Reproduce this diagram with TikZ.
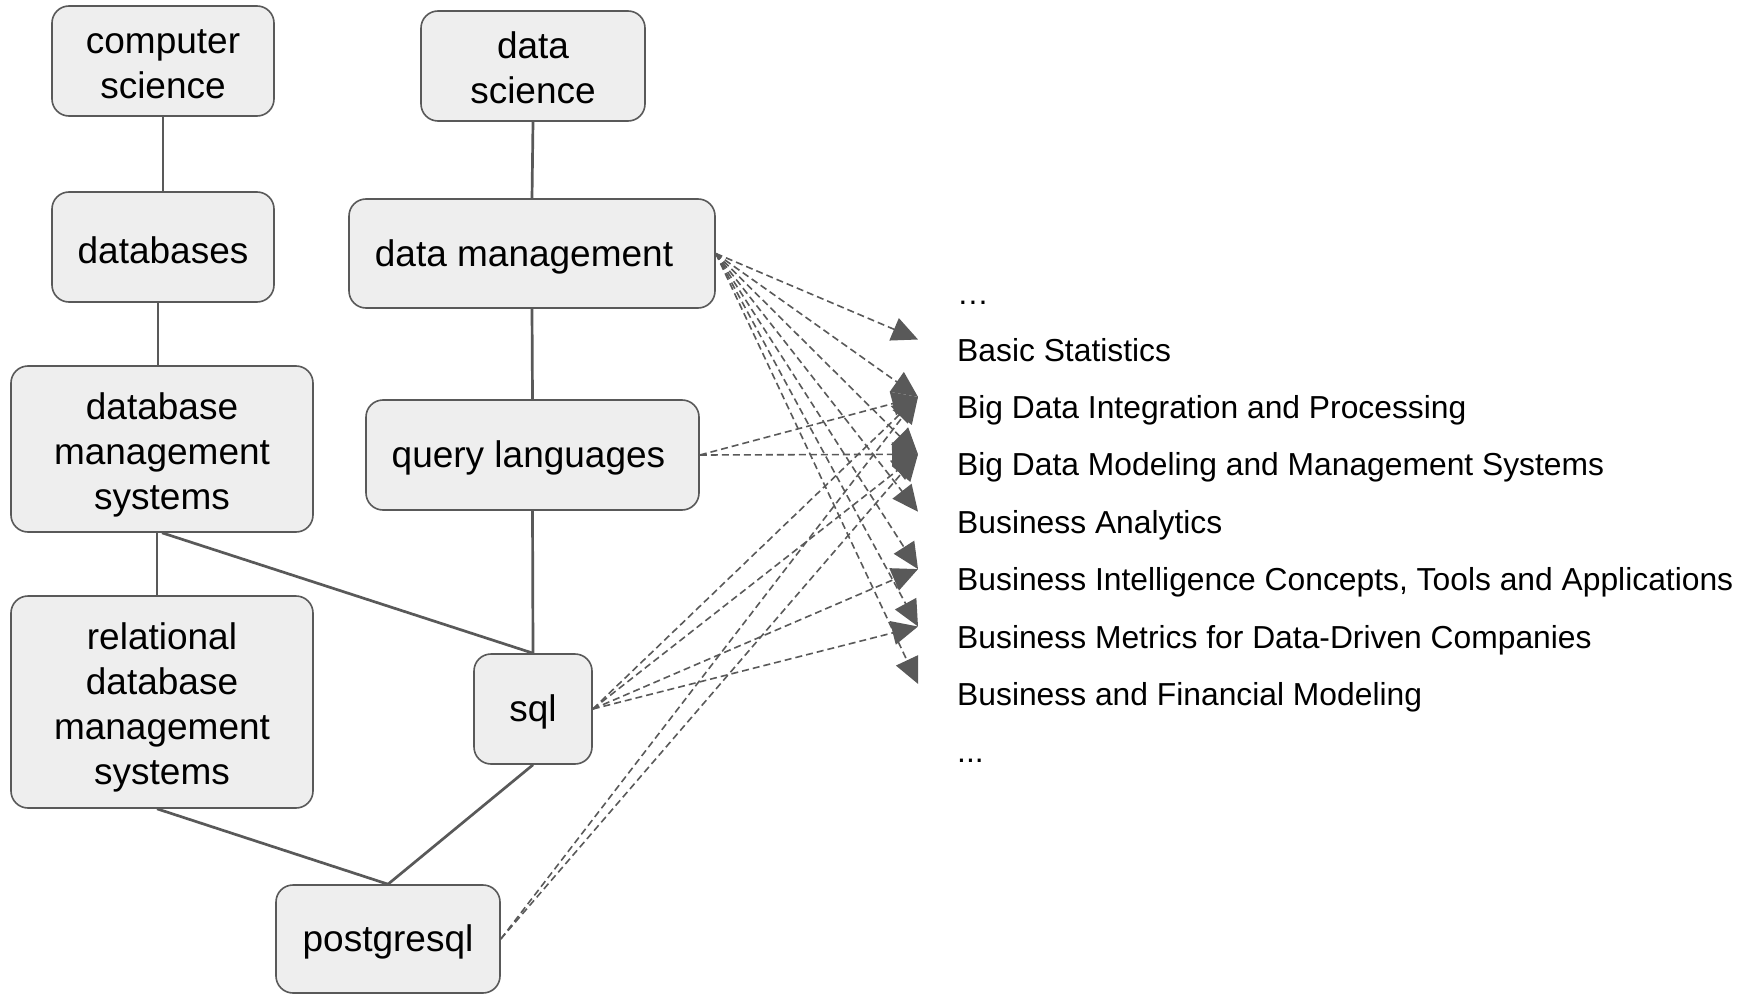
\documentclass[tikz,border=0pt]{standalone}
\usepackage{fontspec}
\setmainfont{Liberation Sans}
\usetikzlibrary{arrows.meta}
\definecolor{ln}{HTML}{595959}
\definecolor{bx}{HTML}{EEEEEE}
\begin{document}
\begin{tikzpicture}[x=1pt,y=-1pt,
 box/.style={draw=ln,line width=1.6pt,fill=bx,rounded corners=17pt,align=center,inner sep=0pt,font=\fontsize{37}{45}\selectfont,execute at begin node={\rule{0pt}{33pt}}},
 link/.style={draw=ln,line width=2.7pt},
 dep/.style={draw=ln,line width=1.6pt,dash pattern=on 7pt off 4pt,-{Triangle[length=26pt,width=24pt]}},
 item/.style={anchor=base west,inner sep=0pt,font=\fontsize{31.8}{38}\selectfont}]
\useasboundingbox (0,0) rectangle (1761,995);

\node[box,minimum width=222pt,minimum height=110pt] (cs) at (163,61) {\rule{0pt}{30pt}computer\\science};
\node[box,minimum width=224pt,minimum height=110pt] (ds) at (533,66) {\rule{0pt}{30pt}data\\science};
\node[box,minimum width=222pt,minimum height=110pt] (db) at (163,247) {databases};
\node[box,minimum width=366pt,minimum height=109pt] (dm) at (532,253.5) {data management\kern16pt};
\node[box,minimum width=333pt,minimum height=110pt] (ql) at (532.5,455) {query languages\kern8pt};
\node[box,minimum width=302pt,minimum height=166pt] (dbms) at (162,449) {\rule{0pt}{38pt}database\\management\\systems};
\node[box,minimum width=302pt,minimum height=212pt] (rdbms) at (162,702) {\rule{0pt}{37pt}relational\\database\\management\\systems};
\node[box,minimum width=118pt,minimum height=110pt] (sql) at (533,709) {sql};
\node[box,minimum width=224pt,minimum height=108pt] (pg) at (388,939) {postgresql};

\draw[link] (cs.south) -- (db.north);
\draw[link] ([xshift=-5pt]db.south) -- ([xshift=-4pt]dbms.north);
\draw[link] ([xshift=-5pt]dbms.south) -- ([xshift=-5pt]rdbms.north);
\draw[link] (dbms.south) -- (sql.north);
\draw[link] ([xshift=-5pt]rdbms.south) -- (pg.north);
\draw[link] (sql.south) -- (pg.north);
\draw[link] (ds.south) -- (dm.north);
\draw[link] (dm.south) -- (ql.north);
\draw[link] (ql.south) -- (sql.north);

\node[item] (t0) at (957,304) {…};
\node[item] (t1) at (957,361) {Basic Statistics};
\node[item] (t2) at (957,418.4) {Big Data Integration and Processing};
\node[item] (t3) at (957,475.8) {Big Data Modeling and Management Systems};
\node[item] (t4) at (957,533.2) {Business Analytics};
\node[item] (t5) at (957,590.6) {Business Intelligence Concepts, Tools and Applications};
\node[item] (t6) at (957,648) {Business Metrics for Data-Driven Companies};
\node[item] (t7) at (957,705.4) {Business and Financial Modeling};
\node[item] (t8) at (957,762.8) {...};

\foreach \i in {1,...,7}{\coordinate (a\i) at ([xshift=-39pt,yshift=21.5pt]t\i.base west);}

\foreach \i in {1,...,7}{\draw[dep] (dm.east) -- (a\i);}
\foreach \i in {2,3}{\draw[dep] (ql.east) -- (a\i);}
\foreach \i in {2,3,5,6}{\draw[dep] (sql.east) -- (a\i);}
\foreach \i in {2,3}{\draw[dep] (pg.east) -- (a\i);}
\end{tikzpicture}
\end{document}
